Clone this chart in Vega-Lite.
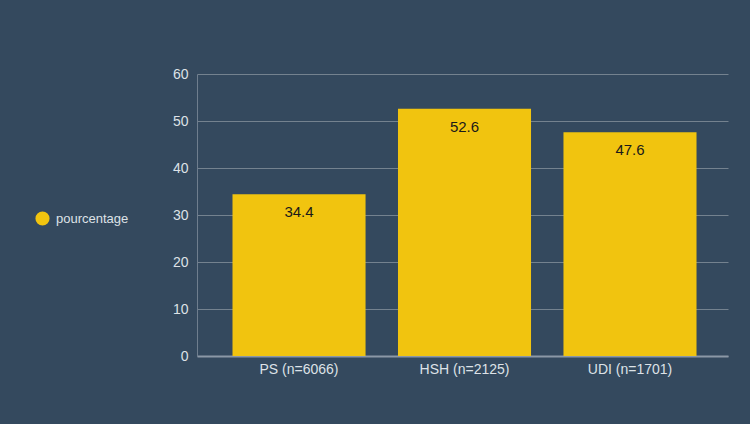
{
  "$schema": "https://vega.github.io/schema/vega-lite/v6.json",
  "autosize": {"type": "none"},
  "width": 531,
  "height": 282,
  "padding": {"left": 197, "top": 74, "right": 22, "bottom": 68},
  "background": "#34495e",
  "data": {"values": [
    {"groupe": "PS (n=6066)", "serie": "pourcentage", "valeur": 34.4},
    {"groupe": "HSH (n=2125)", "serie": "pourcentage", "valeur": 52.6},
    {"groupe": "UDI (n=1701)", "serie": "pourcentage", "valeur": 47.6}
  ]},
  "config": {
    "view": {"stroke": null},
    "font": "Liberation Sans"
  },
  "encoding": {
    "x": {
      "field": "groupe", "type": "nominal", "sort": null,
      "scale": {"paddingInner": 0.196, "paddingOuter": 0.2024, "align": 0.53},
      "axis": {
        "title": null, "labelAngle": 0, "ticks": false, "labelPadding": 6,
        "labelColor": "#dde2e7", "labelFontSize": 14, "labelFont": "Liberation Sans",
        "domainColor": "#8b98a6", "domainWidth": 2, "grid": false
      }
    },
    "y": {
      "field": "valeur", "type": "quantitative",
      "scale": {"domain": [0, 60], "nice": false},
      "axis": {
        "title": null, "values": [0, 10, 20, 30, 40, 50, 60], "ticks": false, "labelPadding": 9,
        "labelColor": "#dde2e7", "labelFontSize": 14, "labelFont": "Liberation Sans",
        "domainColor": "#6f7e8e", "domainWidth": 1,
        "grid": true, "gridColor": "#74828f", "gridWidth": 1
      }
    }
  },
  "layer": [
    {
      "mark": {"type": "bar"},
      "encoding": {
        "color": {
          "field": "serie", "type": "nominal",
          "scale": {"range": ["#f1c40f"]},
          "legend": {
            "title": null, "orient": "none", "legendX": -162, "legendY": 137,
            "symbolType": "circle", "symbolSize": 200, "symbolStrokeWidth": 0,
            "labelColor": "#dde2e7", "labelFontSize": 13, "labelFont": "Liberation Sans",
            "labelOffset": 6
          }
        }
      }
    },
    {
      "mark": {"type": "text", "baseline": "middle", "dy": 18, "fontSize": 15, "color": "#1a1a1a", "font": "Liberation Sans"},
      "encoding": {
        "text": {"field": "valeur", "type": "quantitative", "format": ".1f"}
      }
    }
  ]
}
